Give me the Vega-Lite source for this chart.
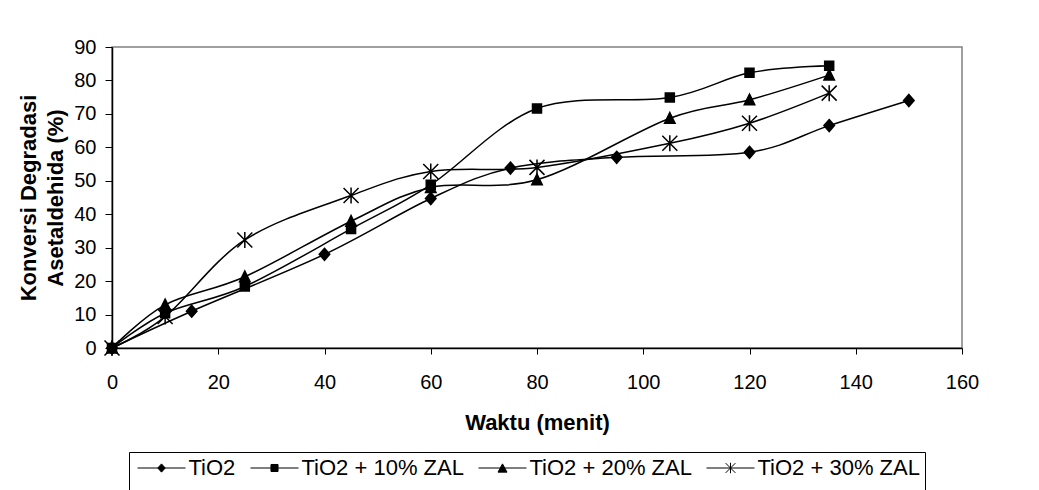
{
  "$schema": "https://vega.github.io/schema/vega-lite/v6.json",
  "autosize": {"type": "none"},
  "width": 850,
  "height": 301,
  "padding": {"left": 112, "top": 47, "right": 77, "bottom": 142},
  "background": "white",
  "config": {
    "font": "Liberation Sans",
    "view": {"stroke": "#808080", "strokeWidth": 1.5},
    "axis": {
      "grid": false,
      "domainColor": "black",
      "domainWidth": 1.5,
      "tickColor": "black",
      "tickWidth": 1,
      "tickSize": 7,
      "labelFont": "Liberation Sans",
      "labelFontSize": 20,
      "labelColor": "black",
      "titleFont": "Liberation Sans",
      "titleFontSize": 22,
      "titleFontWeight": "bold",
      "titleColor": "black"
    }
  },
  "data": {
    "values": [
      {"series": "TiO2", "t": 0, "k": 0},
      {"series": "TiO2", "t": 15, "k": 11},
      {"series": "TiO2", "t": 40, "k": 28},
      {"series": "TiO2", "t": 60, "k": 44.7},
      {"series": "TiO2", "t": 75, "k": 53.8},
      {"series": "TiO2", "t": 95, "k": 57},
      {"series": "TiO2", "t": 120, "k": 58.5},
      {"series": "TiO2", "t": 135, "k": 66.5},
      {"series": "TiO2", "t": 150, "k": 74},
      {"series": "TiO2 + 10% ZAL", "t": 0, "k": 0},
      {"series": "TiO2 + 10% ZAL", "t": 10, "k": 10.4},
      {"series": "TiO2 + 10% ZAL", "t": 25, "k": 18.4},
      {"series": "TiO2 + 10% ZAL", "t": 45, "k": 35.6},
      {"series": "TiO2 + 10% ZAL", "t": 60, "k": 48.8},
      {"series": "TiO2 + 10% ZAL", "t": 80, "k": 71.6},
      {"series": "TiO2 + 10% ZAL", "t": 105, "k": 74.9},
      {"series": "TiO2 + 10% ZAL", "t": 120, "k": 82.3},
      {"series": "TiO2 + 10% ZAL", "t": 135, "k": 84.4},
      {"series": "TiO2 + 20% ZAL", "t": 0, "k": 0},
      {"series": "TiO2 + 20% ZAL", "t": 10, "k": 12.9},
      {"series": "TiO2 + 20% ZAL", "t": 25, "k": 21.3},
      {"series": "TiO2 + 20% ZAL", "t": 45, "k": 37.9},
      {"series": "TiO2 + 20% ZAL", "t": 60, "k": 48},
      {"series": "TiO2 + 20% ZAL", "t": 80, "k": 50.3},
      {"series": "TiO2 + 20% ZAL", "t": 105, "k": 68.7},
      {"series": "TiO2 + 20% ZAL", "t": 120, "k": 74.2},
      {"series": "TiO2 + 20% ZAL", "t": 135, "k": 81.6},
      {"series": "TiO2 + 30% ZAL", "t": 0, "k": 0},
      {"series": "TiO2 + 30% ZAL", "t": 10, "k": 9.4},
      {"series": "TiO2 + 30% ZAL", "t": 25, "k": 32.3},
      {"series": "TiO2 + 30% ZAL", "t": 45, "k": 45.6},
      {"series": "TiO2 + 30% ZAL", "t": 60, "k": 52.8},
      {"series": "TiO2 + 30% ZAL", "t": 80, "k": 54},
      {"series": "TiO2 + 30% ZAL", "t": 105, "k": 61.2},
      {"series": "TiO2 + 30% ZAL", "t": 120, "k": 67.2},
      {"series": "TiO2 + 30% ZAL", "t": 135, "k": 76.2}
    ]
  },
  "encoding": {
    "x": {
      "field": "t", "type": "quantitative",
      "scale": {"domain": [0, 160], "nice": false},
      "axis": {"values": [0, 20, 40, 60, 80, 100, 120, 140, 160], "title": "Waktu (menit)", "labelPadding": 18, "titlePadding": 20, "labelFlush": false, "tickSize": 6}
    },
    "y": {
      "field": "k", "type": "quantitative",
      "scale": {"domain": [0, 90], "nice": false},
      "axis": {"values": [0, 10, 20, 30, 40, 50, 60, 70, 80, 90], "title": ["Konversi Degradasi", "Asetaldehida (%)"], "titleLineHeight": 27, "labelPadding": 9, "titlePadding": 6, "labelFlush": false}
    }
  },
  "layer": [
    {
      "mark": {"type": "line", "interpolate": "cardinal", "tension": 0, "color": "black", "strokeWidth": 1.5},
      "encoding": {"detail": {"field": "series"}}
    },
    {
      "mark": {"type": "point", "filled": true, "color": "black", "stroke": "black", "strokeWidth": 1.5, "size": 100, "opacity": 1},
      "encoding": {
        "shape": {
          "field": "series", "type": "nominal",
          "scale": {
            "domain": ["TiO2", "TiO2 + 10% ZAL", "TiO2 + 20% ZAL", "TiO2 + 30% ZAL"],
            "range": [
              "M0,-1.2L1.05,0L0,1.2L-1.05,0Z",
              "M-0.9,-0.9L0.9,-0.9L0.9,0.9L-0.9,0.9Z",
              "M0,-1.15L1.05,1L-1.05,1Z",
              "M-1.5,-1.5L1.5,1.5M-1.5,1.5L1.5,-1.5M0,-1.6L0,1.6"
            ]
          },
          "legend": null
        }
      }
    },
    {
      "transform": [{"filter": "datum.k < 0"}],
      "mark": {"type": "point", "filled": true, "color": "black", "stroke": "black", "strokeWidth": 1.3, "opacity": 1},
      "encoding": {
        "shape": {
          "field": "series", "type": "nominal",
          "scale": {
            "domain": ["TiO2", "TiO2 + 10% ZAL", "TiO2 + 20% ZAL", "TiO2 + 30% ZAL"],
            "range": [
              "M-3.2,0L3.2,0M0,-0.55L0.5,0L0,0.55L-0.5,0Z",
              "M-3.2,0L3.2,0M-0.47,-0.47L0.47,-0.47L0.47,0.47L-0.47,0.47Z",
              "M-3.2,0L3.2,0M0,-0.55L0.6,0.55L-0.6,0.55Z",
              "M-3.2,0L3.2,0M-0.65,-0.65L0.65,0.65M-0.65,0.65L0.65,-0.65M0,-0.7L0,0.7"
            ]
          },
          "legend": {
            "title": " ",
            "titleOrient": "bottom",
            "titleFontSize": 20,
            "titlePadding": 10,
            "orient": "none",
            "legendX": 17,
            "legendY": 405,
            "direction": "horizontal",
            "columns": 4,
            "padding": 5,
            "strokeColor": "black",
            "fillColor": "white",
            "symbolSize": 225,
            "symbolOffset": 16.5,
            "symbolStrokeWidth": 1,
            "labelOffset": 16,
            "labelFont": "Liberation Sans",
            "labelFontSize": 22,
            "labelColor": "black",
            "labelLimit": 300,
            "columnPadding": 11,
            "encode": {
              "symbols": {
                "fill": {"value": "black"},
                "stroke": {"value": "black"},
                "strokeWidth": {"value": 1.3},
                "opacity": {"value": 1}
              }
            }
          }
        }
      }
    }
  ],
  "resolve": {"scale": {"shape": "independent"}, "legend": {"shape": "independent"}}
}
